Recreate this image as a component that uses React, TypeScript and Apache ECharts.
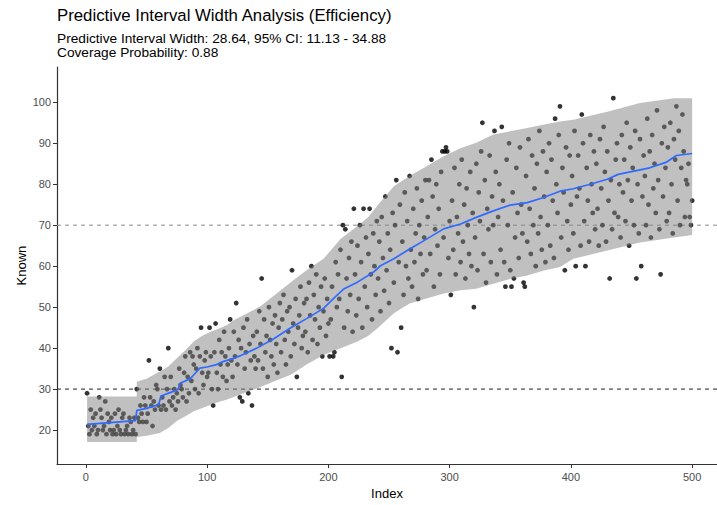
import React, { useEffect, useRef } from "react";
import * as echarts from "echarts";

const titleText = "Predictive Interval Width Analysis (Efficiency)";
const subtitleLines = [
  "Predictive Interval Width: 28.64, 95% CI: 11.13 - 34.88",
  "Coverage Probability: 0.88",
];

// Observed "Known" values, Index 1..500
const known: number[] = [
  29,21,19,25,20,23,21,24,19,20,28,25,23,20,21,27,19,24,22,20,
  23,19,20,24,19,21,25,20,19,23,24,19,20,21,19,23,22,19,20,23,
  19,30,23,22,26,24,22,28,26,22,24,37,28,26,21,27,25,31,30,26,
  35,25,28,26,33,25,30,40,27,33,26,28,30,25,29,27,35,31,30,28,
  34,38,27,33,29,39,32,38,36,30,35,40,29,38,45,34,31,37,39,33,
  34,45,38,30,26,39,46,34,30,42,36,39,33,44,38,32,36,40,47,37,
  33,44,38,51,36,42,28,40,27,45,35,39,47,29,41,37,26,43,38,35,
  44,37,49,41,57,35,47,39,43,33,50,42,38,46,36,48,41,34,45,51,
  39,47,53,42,36,49,44,50,38,59,46,41,52,33,45,48,55,40,43,51,
  44,52,39,56,48,60,42,53,47,58,41,50,45,55,38,49,57,43,52,46,
  38,47,55,38,39,61,50,58,52,64,33,70,45,69,57,49,62,53,66,44,
  74,58,48,65,52,70,61,45,74,55,67,50,63,74,58,47,68,60,53,71,
  57,66,49,72,62,54,77,59,68,51,64,40,73,56,70,81,39,61,75,45,
  66,53,78,60,71,57,82,64,55,74,61,68,79,52,70,63,76,58,67,81,
  59,72,81,63,86,77,55,69,80,65,74,58,83,88,67,88,89,88,62,71,
  53,76,64,84,58,72,68,80,61,86,66,75,57,79,70,63,83,60,73,50,
  67,85,59,78,71,88,95,63,81,56,74,69,87,61,77,70,93,83,58,72,
  80,64,94,76,61,55,86,70,90,59,55,78,57,67,84,73,62,89,75,68,
  56,55,82,66,91,74,63,87,70,79,60,85,68,93,72,64,88,77,61,83,
  70,90,65,86,76,62,96,80,73,92,99,67,84,78,59,89,71,64,87,75,
  82,68,93,60,77,87,79,65,97,90,71,60,84,76,66,92,80,73,88,69,
  85,74,65,91,79,70,94,83,66,88,76,57,81,69,101,73,86,90,72,80,
  67,92,78,86,71,95,81,65,89,76,84,70,93,57,80,68,91,60,77,87,
  82,70,96,75,88,67,92,79,85,73,98,81,69,58,90,77,94,84,71,89,
  73,95,80,68,91,86,99,76,93,70,84,97,88,72,81,80,85,72,70,76,
];

// Prediction interval bounds read at key indices
const bandIndex: number[] = [1, 42, 42, 50, 61, 68, 75, 82, 89, 96, 103, 110, 116, 123, 130, 144, 156, 169, 182, 196, 210, 224, 233, 241, 254, 267, 281, 295, 309, 322, 336, 350, 364, 377, 391, 402, 430, 457, 485, 500];
const bandLower: number[] = [17.1, 17.1, 18.3, 18.6, 19.3, 20.5, 22.2, 23.4, 24.6, 25.4, 26.2, 26.9, 27.4, 28.2, 29.0, 30.5, 32.0, 33.5, 36.0, 38.3, 40.0, 41.6, 43.0, 45.0, 48.5, 50.9, 52.1, 53.3, 54.1, 54.5, 55.7, 56.9, 57.7, 58.9, 59.8, 61.8, 63.8, 65.8, 67.0, 67.6];
const bandUpper: number[] = [28.2, 28.2, 31.8, 32.5, 34.3, 35.5, 37.5, 39.5, 41.6, 43.0, 44.0, 44.8, 45.6, 47.0, 48.0, 50.2, 53.0, 56.1, 59.0, 61.8, 66.6, 69.8, 72.0, 75.0, 79.5, 82.0, 84.4, 86.8, 88.8, 90.1, 92.1, 92.9, 93.7, 94.5, 95.3, 95.7, 97.7, 99.8, 101.0, 101.0];

// Predicted (fitted) line read at key indices
const predIndex: number[] = [1, 20, 41, 42, 50, 60, 62, 70, 76, 78, 86, 90, 94, 100, 107, 113, 120, 127, 141, 155, 168, 182, 196, 207, 213, 224, 237, 243, 254, 267, 281, 295, 309, 322, 336, 350, 364, 377, 391, 402, 416, 430, 439, 452, 465, 479, 487, 500];
const predValue: number[] = [21.4, 21.8, 22.3, 24.8, 25.3, 26.2, 28.3, 29.2, 29.9, 31.5, 32.5, 33.8, 35.1, 35.4, 35.9, 36.7, 37.3, 38.1, 40.0, 42.3, 44.8, 47.2, 49.7, 52.9, 54.5, 56.1, 58.5, 60.1, 61.8, 64.2, 66.6, 69.1, 70.3, 71.9, 73.5, 74.9, 75.5, 76.7, 78.3, 78.9, 80.0, 81.2, 82.4, 83.2, 84.0, 85.4, 87.0, 87.5];

const refLines: number[] = [30, 70];
const xTicks: number[] = [0, 100, 200, 300, 400, 500];
const yTicks: number[] = [20, 30, 40, 50, 60, 70, 80, 90, 100];

const X_MIN = -23.8;
const X_MAX = 520.5;
const Y_MIN = 11.7;
const Y_MAX = 108.6;
const FONT = "'Liberation Sans', Arial, Helvetica, sans-serif";

export default function App() {
  const ref = useRef<HTMLDivElement>(null);

  useEffect(() => {
    if (!ref.current) return;
    const chart = echarts.init(ref.current, undefined, { renderer: "svg" });

    const points = known.map((v, i) => [i + 1, v]);
    const predData = predIndex.map((x, i) => [x, predValue[i]]);
    const refColors = ["#222222", "#8c8c8c"];

    const option: any = {
      animation: false,
      backgroundColor: "#ffffff",
      textStyle: { fontFamily: FONT },
      title: [
        {
          text: titleText,
          left: 57,
          top: 7.3,
          padding: 0,
          textStyle: { fontSize: 16.8, fontWeight: "normal", color: "#000", fontFamily: FONT },
        },
        ...subtitleLines.map((line, k) => ({
          text: line,
          left: 57,
          top: 31.2 + k * 14,
          padding: 0,
          textStyle: { fontSize: 13.7, fontWeight: "normal", color: "#000", lineHeight: 14, fontFamily: FONT },
        })),
      ],
      grid: { left: 57, right: 0, top: 67, bottom: 38.3, containLabel: false },
      xAxis: {
        type: "value",
        min: X_MIN,
        max: X_MAX,
        name: "Index",
        nameLocation: "middle",
        nameGap: 20,
        nameTextStyle: { fontSize: 13, color: "#000", fontFamily: FONT },
        axisLine: { show: true, onZero: false, lineStyle: { color: "#333", width: 1.2 } },
        axisTick: { show: true, length: 4, customValues: xTicks, lineStyle: { color: "#333" } },
        axisLabel: { customValues: xTicks, color: "#4d4d4d", fontSize: 11, margin: 7, fontFamily: FONT },
        splitLine: { show: false },
      },
      yAxis: {
        type: "value",
        min: Y_MIN,
        max: Y_MAX,
        name: "Known",
        nameLocation: "middle",
        nameGap: 29,
        nameMoveOverlap: false,
        nameRotate: 90,
        nameTextStyle: { fontSize: 13, color: "#000", fontFamily: FONT },
        axisLine: { show: true, onZero: false, lineStyle: { color: "#333", width: 1.2 } },
        axisTick: { show: true, length: 4, customValues: yTicks, lineStyle: { color: "#333" } },
        axisLabel: { customValues: yTicks, color: "#4d4d4d", fontSize: 11, margin: 6, fontFamily: FONT },
        splitLine: { show: false },
      },
      series: [
        ...refLines.map((y, k) => ({
          type: "line",
          z: 1,
          silent: true,
          symbol: "none",
          data: [[X_MIN, y], [X_MAX, y]],
          lineStyle: { color: refColors[k], width: 1, type: [4, 4] },
        })),
        {
          type: "scatter",
          z: 2,
          silent: true,
          symbolSize: 4.8,
          itemStyle: { color: "#000" },
          data: points,
        },
        {
          type: "custom",
          z: 3,
          silent: true,
          data: [[0, 50]],
          encode: { x: 0, y: 1 },
          renderItem: (_params: any, api: any) => {
            const pts: number[][] = [];
            for (let i = 0; i < bandIndex.length; i++) pts.push(api.coord([bandIndex[i], bandUpper[i]]));
            for (let i = bandIndex.length - 1; i >= 0; i--) pts.push(api.coord([bandIndex[i], bandLower[i]]));
            return {
              type: "polygon",
              shape: { points: pts },
              style: { fill: "rgba(130,130,130,0.5)", stroke: "none" },
            };
          },
        },
        {
          type: "line",
          z: 4,
          silent: true,
          symbol: "none",
          data: predData,
          lineStyle: { color: "#2f6bff", width: 1.7 },
        },
      ],
    };

    chart.setOption(option);
    return () => chart.dispose();
  }, []);

  return (
    <div
      ref={ref}
      style={{ position: "absolute", left: 0, top: 0, width: 717, height: 505 }}
    />
  );
}
